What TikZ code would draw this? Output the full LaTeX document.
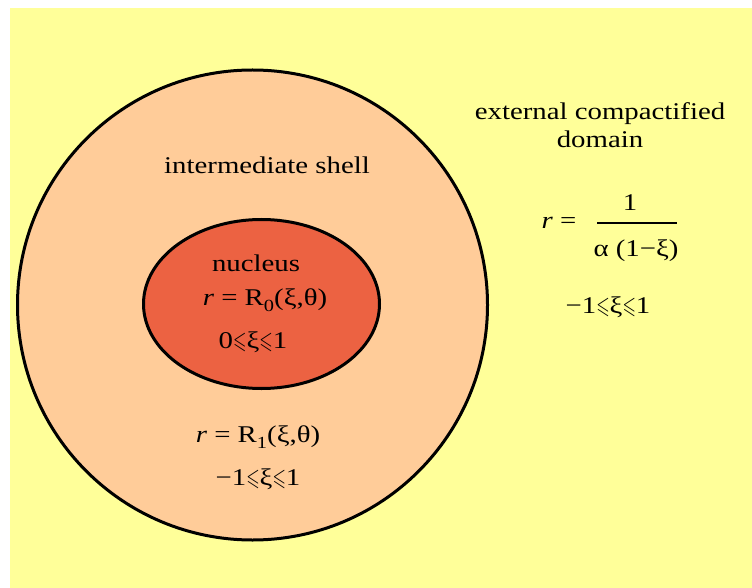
\documentclass[tikz,border=0pt]{standalone}
\usepackage{fontspec}
\setmainfont[FakeStretch=1.2]{Liberation Serif}
\usepackage{amssymb}
\usetikzlibrary{shapes.geometric}
\definecolor{paper}{RGB}{255,255,153}
\definecolor{shellfill}{RGB}{255,204,153}
\definecolor{corefill}{RGB}{236,98,66}
\newcommand{\lsl}{\scalebox{0.72}[1]{$\leqslant$}}
\newcommand{\sub}[1]{\raisebox{-6pt}{\fontsize{17}{17}\selectfont #1}}

\begin{document}
\begin{tikzpicture}[
  x=1pt, y=-1pt,
  region/.style={draw, line width=3pt, inner sep=0pt},
  lbl/.style={inner sep=0pt, font=\fontsize{24}{28}\selectfont},
]
\useasboundingbox (0,0) rectangle (752,588);
\fill[paper] (10,8) rectangle (752,588);

% shell and nucleus
\node[region, circle, fill=shellfill, minimum size=470pt] (shell) at (252.5,305) {};
\node[region, ellipse, fill=corefill, minimum width=236pt, minimum height=169pt] (nucleus) at (261.5,304) {};

% labels inside
\node[lbl] (shellname) at (267,165) {intermediate shell};
\node[lbl] (corename) at (256,263) {nucleus};
\node[lbl] (coreeq) at (265,300) {\textit{r} = R\sub{0}(ξ,θ)};
\node[lbl] (corerange) at (253,342) {0\lsl ξ\lsl 1};
\node[lbl] (shelleq) at (258,437) {\textit{r} = R\sub{1}(ξ,θ)};
\node[lbl] (shellrange) at (258,479) {−1\lsl ξ\lsl 1};

% outer domain
\node[lbl, align=center] (outname) at (600,125) {external compactified\\domain};
\node[lbl] (outr) at (559,223) {\textit{r} =};
\coordinate (barL) at (597,223);
\coordinate (barR) at (677,223);
\draw[line width=1.5pt] (barL) -- (barR);
\node[lbl] (outnum) at (630,203) {1};
\node[lbl] (outden) at (636,251) {α (1−ξ)};
\node[lbl] (outrange) at (608,307) {−1\lsl ξ\lsl 1};
\end{tikzpicture}
\end{document}
